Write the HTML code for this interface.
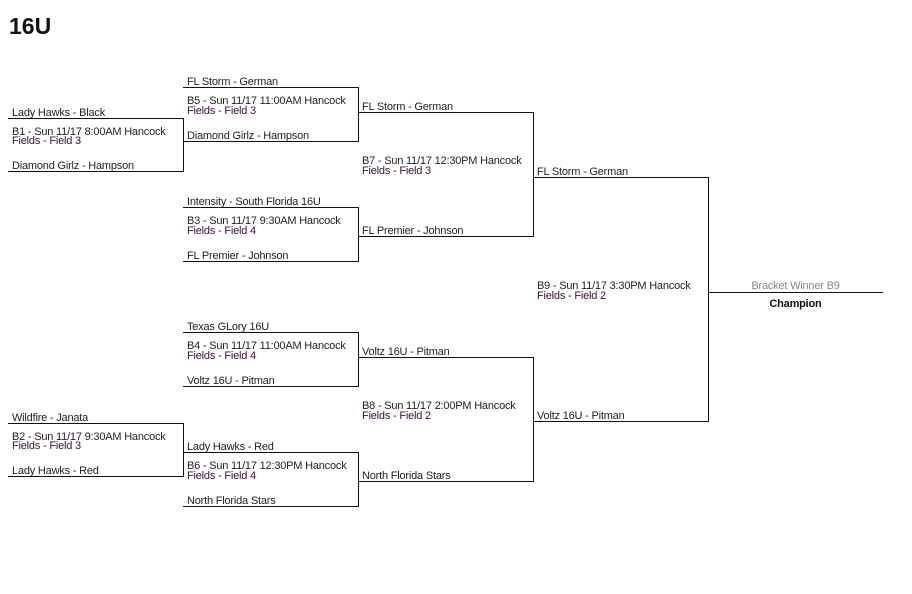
<!DOCTYPE html>
<html><head><meta charset="utf-8"><style>
body{margin:0;width:912px;height:594px;background:#fff;font-family:"Liberation Sans",sans-serif;color:#222;position:relative;overflow:hidden}
.h{position:absolute;left:9px;top:13px;font-size:23px;font-weight:bold;color:#111}
.b{position:absolute;border:1px solid #111;border-left:none;box-sizing:border-box}
.t{position:absolute;font-size:11px;white-space:nowrap;line-height:12px;letter-spacing:-0.2px}
.g{position:absolute;font-size:11px;white-space:nowrap;line-height:9.5px;letter-spacing:-0.2px}
.p{color:#3a0f3a}
</style></head><body>
<div class="h">16U</div>
<div id="c"></div>
<script>
var c=document.getElementById('c'),h='';
function box(x,t,b,a,bb,g1,g2){
 h+='<div class="b" style="left:'+x+'px;top:'+t+'px;width:'+(176)+'px;height:'+(b-t+1)+'px"></div>';
 h+='<div class="t" style="left:'+(x+4)+'px;top:'+(t-11)+'px">'+a+'</div>';
 h+='<div class="t" style="left:'+(x+4)+'px;top:'+(b-11)+'px">'+bb+'</div>';
 var m=(t+b)/2;
 h+='<div class="g" style="left:'+(x+4)+'px;top:'+(m-17)+'px">'+g1+'<br><span class="p">'+g2+'</span></div>';
}
box(8,118,171,'Lady Hawks - Black','Diamond Girlz - Hampson','B1 - Sun 11/17 8:00AM Hancock','Fields - Field 3');
box(8,423,476,'Wildfire - Janata','Lady Hawks - Red','B2 - Sun 11/17 9:30AM Hancock','Fields - Field 3');
box(183,87,141,'FL Storm - German','Diamond Girlz - Hampson','B5 - Sun 11/17 11:00AM Hancock','Fields - Field 3');
box(183,207,261,'Intensity - South Florida 16U','FL Premier - Johnson','B3 - Sun 11/17 9:30AM Hancock','Fields - Field 4');
box(183,332,386,'Texas GLory 16U','Voltz 16U - Pitman','B4 - Sun 11/17 11:00AM Hancock','Fields - Field 4');
box(183,452,506,'Lady Hawks - Red','North Florida Stars','B6 - Sun 11/17 12:30PM Hancock','Fields - Field 4');
box(358,112,236,'FL Storm - German','FL Premier - Johnson','B7 - Sun 11/17 12:30PM Hancock','Fields - Field 3');
box(358,357,481,'Voltz 16U - Pitman','North Florida Stars','B8 - Sun 11/17 2:00PM Hancock','Fields - Field 2');
box(533,177,421,'FL Storm - German','Voltz 16U - Pitman','B9 - Sun 11/17 3:30PM Hancock','Fields - Field 2');
h+='<div style="position:absolute;left:708px;top:292px;width:175px;height:1px;background:#111"></div>';
h+='<div class="t" style="left:708px;width:175px;text-align:center;top:280px;color:#888">Bracket Winner B9</div>';
h+='<div class="t" style="left:708px;width:175px;text-align:center;top:298px;font-weight:bold;color:#111">Champion</div>';
c.innerHTML=h;
</script>
</body></html>
